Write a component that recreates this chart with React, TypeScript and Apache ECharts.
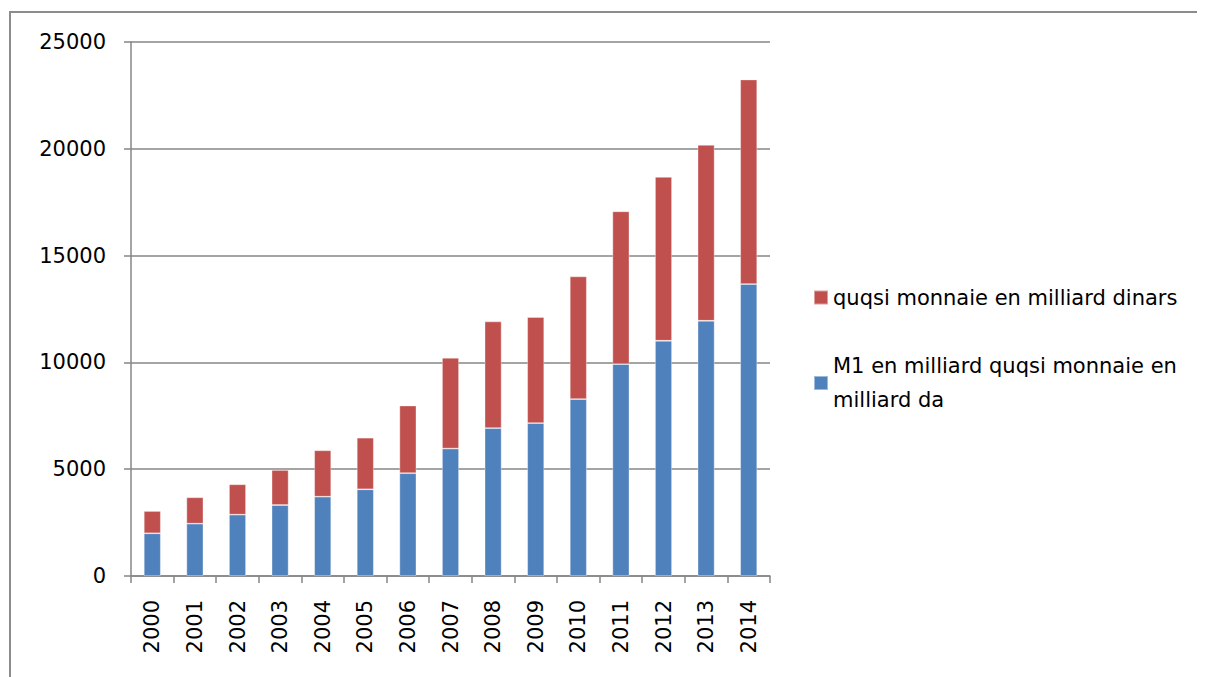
import React, { useEffect, useRef } from "react";
import * as echarts from "echarts";

const years = ["2000","2001","2002","2003","2004","2005","2006","2007","2008","2009","2010","2011","2012","2013","2014"];
const m1Values = [2000, 2449, 2871, 3324, 3713, 4059, 4813, 5966, 6922, 7156, 8281, 9920, 11013, 11950, 13669];
const quasiValues = [1043, 1236, 1422, 1639, 2172, 2416, 3168, 4250, 4995, 4967, 5746, 7153, 7671, 8233, 9576];
const m1Name = "M1 en milliard quqsi monnaie en milliard da";
const quasiName = "quqsi monnaie en milliard dinars";

const FONT = "DejaVu Sans";
const FS = 21;

export default function App() {
  const ref = useRef<HTMLDivElement>(null);
  useEffect(() => {
    if (!ref.current) return;
    const chart = echarts.init(ref.current, null, { renderer: "svg" });
    const grey = "#868686";
    chart.setOption({
      animation: false,
      backgroundColor: "#ffffff",
      textStyle: { fontFamily: FONT },
      grid: { left: 123, top: 34, width: 639, height: 534 },
      graphic: [
        {
          type: "polyline",
          shape: { points: [[2, 700], [2, 4], [1300, 4]] },
          style: { stroke: "#8c8c8c", lineWidth: 2, fill: "none" },
          silent: true,
        },
      ],
      legend: [
        {
          data: [quasiName],
          orient: "vertical",
          left: 805,
          top: 279,
          padding: 0,
          itemWidth: 14,
          itemHeight: 14,
          icon: "rect",
          selectedMode: false,
          textStyle: { fontFamily: FONT, fontSize: FS, color: "#000" },
        },
        {
          data: [m1Name],
          orient: "vertical",
          left: 805,
          top: 324,
          padding: 0,
          itemWidth: 14,
          itemHeight: 14,
          icon: "rect",
          selectedMode: false,
          formatter: () => "M1 en milliard quqsi monnaie en\nmilliard da",
          textStyle: {
            fontFamily: FONT,
            fontSize: FS,
            color: "#000",
            lineHeight: 34,
            padding: [34, 0, 0, 0],
          },
        },
      ],
      xAxis: {
        type: "category",
        data: years,
        boundaryGap: true,
        axisLine: { show: true, lineStyle: { color: grey, width: 1.5 } },
        axisTick: { show: true, length: 7, alignWithLabel: false, lineStyle: { color: grey, width: 1.5 } },
        axisLabel: {
          rotate: 90,
          margin: 24,
          color: "#000",
          fontFamily: FONT,
          fontSize: FS,
          interval: 0,
        },
      },
      yAxis: {
        type: "value",
        min: 0,
        max: 25000,
        interval: 5000,
        axisLine: { show: true, lineStyle: { color: grey, width: 1.5 } },
        axisTick: { show: true, length: 7, lineStyle: { color: grey, width: 1.5 } },
        splitLine: { show: true, lineStyle: { color: grey, width: 1.5 } },
        axisLabel: {
          margin: 25,
          color: "#000",
          fontFamily: FONT,
          fontSize: FS,
          formatter: (v: number) => String(v),
        },
      },
      series: [
        {
          name: m1Name,
          type: "bar",
          stack: "total",
          data: m1Values,
          barWidth: 17,
          itemStyle: { color: "#4F81BD", borderColor: "rgba(255,255,255,0.45)", borderWidth: 0.8 },
        },
        {
          name: quasiName,
          type: "bar",
          stack: "total",
          data: quasiValues,
          barWidth: 17,
          itemStyle: { color: "#C0504D", borderColor: "rgba(255,255,255,0.45)", borderWidth: 0.8 },
        },
      ],
    });
    return () => chart.dispose();
  }, []);
  return <div ref={ref} style={{ width: 1197, height: 669 }} />;
}
